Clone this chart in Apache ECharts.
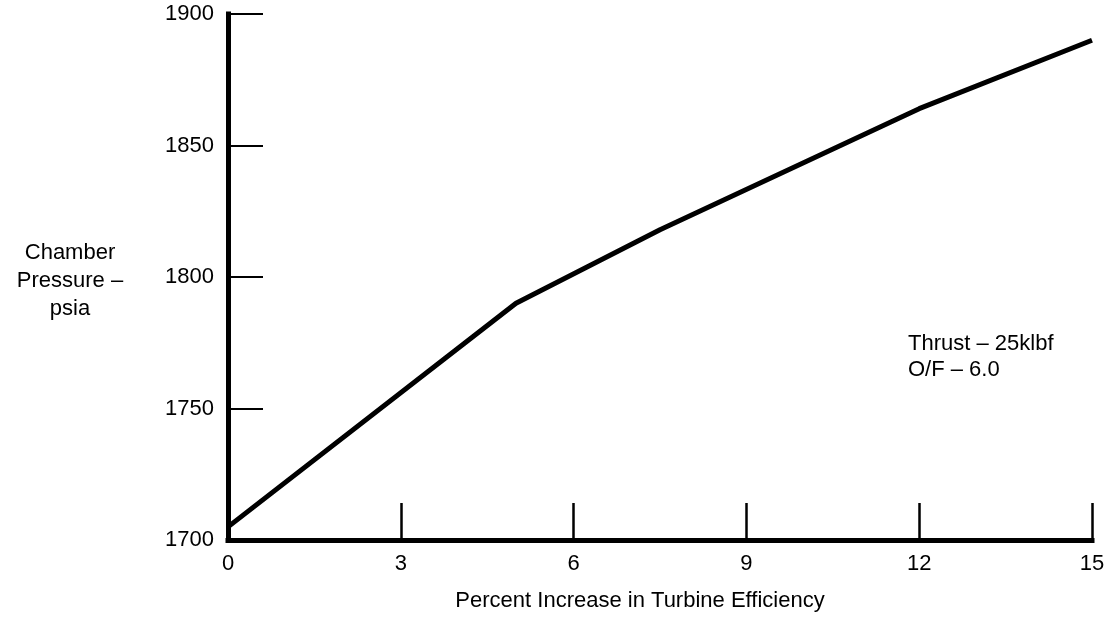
<!DOCTYPE html>
<html>
<head>
<meta charset="utf-8">
<script src="https://cdn.jsdelivr.net/npm/echarts@6/dist/echarts.min.js"></script>
<style>
html,body{margin:0;padding:0;background:#fff;}
#c{width:1113px;height:621px;}
</style>
</head>
<body>
<div id="c"></div>
<script>
const efficiency = [0, 5, 7.5, 12, 15];
const pressure = [1705, 1790, 1818, 1864, 1890];
const xTicks = [0, 3, 6, 9, 12, 15];
const yTicks = [1700, 1750, 1800, 1850, 1900];
const xTitle = 'Percent Increase in Turbine Efficiency';
const yTitle = 'Chamber\nPressure –\npsia';
const noteLines = ['Thrust – 25klbf', 'O/F – 6.0'];

const FONT = 'Liberation Sans';
const chart = echarts.init(document.getElementById('c'), null, {renderer: 'canvas'});
chart.setOption({
  backgroundColor: '#fff',
  animation: false,
  grid: {left: 228, right: 21, top: 14, bottom: 81, containLabel: false},
  xAxis: {
    type: 'value', min: xTicks[0], max: xTicks[xTicks.length - 1], interval: 3,
    splitLine: {show: false},
    axisLine: {lineStyle: {color: '#000', width: 5, cap: 'square'}},
    axisTick: {inside: true, length: 37, lineStyle: {color: '#000', width: 2.5}},
    axisLabel: {color: '#000', fontFamily: FONT, fontSize: 22, margin: 13,
      formatter: v => String(v)},
    name: xTitle, nameLocation: 'middle', nameGap: 50,
    nameTextStyle: {color: '#000', fontFamily: FONT, fontSize: 22, padding: [0, 40, 0, 0]}
  },
  yAxis: {
    type: 'value', min: yTicks[0], max: yTicks[yTicks.length - 1], interval: 50,
    splitLine: {show: false},
    axisLine: {lineStyle: {color: '#000', width: 5, cap: 'square'}},
    axisTick: {inside: true, length: 35, lineStyle: {color: '#000', width: 2}},
    axisLabel: {color: '#000', fontFamily: FONT, fontSize: 22, margin: 14,
      formatter: v => String(v)}
  },
  graphic: [
    {type: 'text', x: 70, y: 281,
     style: {text: yTitle, fill: '#000', font: '22px "Liberation Sans"', textAlign: 'center', textVerticalAlign: 'middle', lineHeight: 28}},
    {type: 'text', x: 908, y: 357,
     style: {text: noteLines.join('\n'), fill: '#000', font: '22px "Liberation Sans"', textAlign: 'left', textVerticalAlign: 'middle', lineHeight: 26}}
  ],
  series: [{
    type: 'line',
    data: efficiency.map((x, i) => [x, pressure[i]]),
    symbol: 'none',
    lineStyle: {color: '#000', width: 5, join: 'round'}
  }]
});
</script>
</body>
</html>
